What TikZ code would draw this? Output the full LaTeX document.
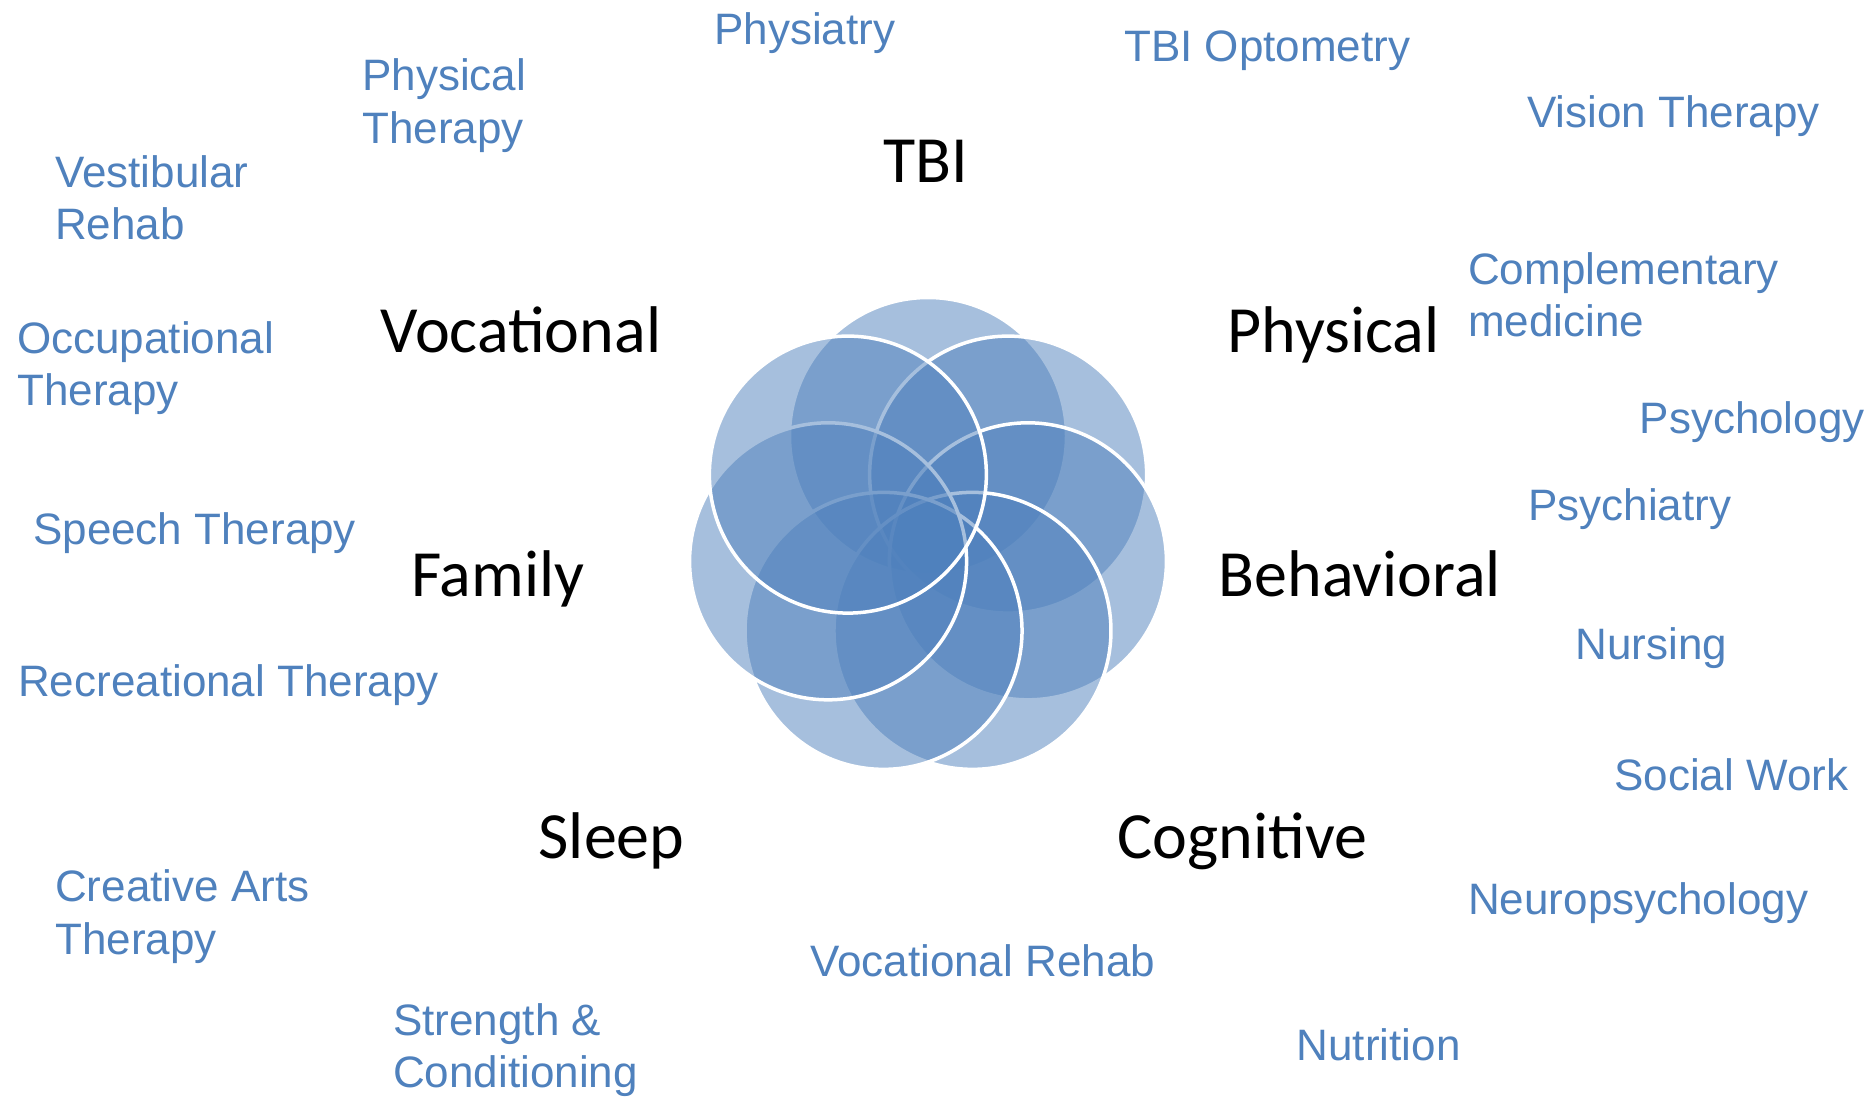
\documentclass[tikz,border=0pt]{standalone}
\usepackage{fontspec}
\newfontfamily\arialf{Liberation Sans}
\newfontfamily\calibf{Carlito}
\definecolor{tbiblue}{HTML}{4F81BD}
\tikzset{
  svc/.style={anchor=base west, inner sep=0pt, text=tbiblue,
    font=\arialf\fontsize{44}{52.5}\selectfont},
  area/.style={anchor=base, inner sep=0pt, text=black,
    font=\calibf\fontsize{66}{79}\selectfont},
  petal/.style={fill=tbiblue, fill opacity=0.5, draw=white, draw opacity=1, line width=3.5pt}
}
\newcommand{\twol}[2]{\begin{tabular}[t]{@{}l@{}}#1\\#2\end{tabular}}
\begin{document}
\begin{tikzpicture}[x=1pt, y=-1pt]
\useasboundingbox[fill=white] (0,0) rectangle (1875,1096);
% overlapping circles, drawn clockwise from the top
\begin{scope}[shift={(928,538.5)}]
  \foreach \i in {0,...,6}
    \filldraw[petal] ({-90+\i*51.4286}:102.5) circle[radius=138.5];
\end{scope}
% area labels
\node[area] (tbi) at (925.8,182.7) {TBI};
\node[area] (voc) at (520.8,352.7) {Vocational};
\node[area] (phy) at (1333.5,352.3) {Physical};
\node[area] (fam) at (497.8,596.7) {Family};
\node[area] (beh) at (1359.7,596.7) {Behavioral};
\node[area] (slp) at (611.6,858.3) {Sleep};
\node[area] (cog) at (1242.6,858.3) {Cognitive};
% services
\node[svc] (physiatry) at (714,44.3) {Physiatry};
\node[svc] (optom) at (1124,61.4) {TBI Optometry};
\node[svc] (vision) at (1527,127) {Vision Therapy};
\node[svc] (pt) at (362,90.7) {\twol{Physical}{Therapy}};
\node[svc] (vest) at (55,187.3) {\twol{Vestibular}{Rehab}};
\node[svc] (comp) at (1468,284.1) {\twol{Complementary}{medicine}};
\node[svc] (ot) at (17,353.3) {\twol{Occupational}{Therapy}};
\node[svc] (psychol) at (1639.5,433.9) {Psychology};
\node[svc] (psychia) at (1528,520) {Psychiatry};
\node[svc] (speech) at (33,544) {Speech Therapy};
\node[svc] (nurs) at (1575.5,659.3) {Nursing};
\node[svc] (recr) at (18,696) {Recreational Therapy};
\node[svc] (social) at (1614,790.7) {Social Work};
\node[svc] (creat) at (55,901.7) {\twol{Creative Arts}{Therapy}};
\node[svc] (neuro) at (1468,914.5) {Neuropsychology};
\node[svc] (vocr) at (810,976) {Vocational Rehab};
\node[svc] (strength) at (393,1035) {\twol{Strength \&}{Conditioning}};
\node[svc] (nutr) at (1296.5,1060) {Nutrition};
\end{tikzpicture}
\end{document}
